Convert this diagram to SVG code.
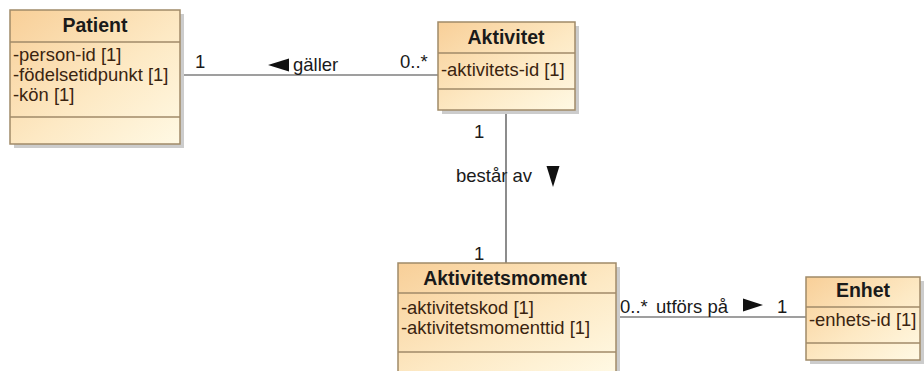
<svg xmlns="http://www.w3.org/2000/svg" width="924" height="371" viewBox="0 0 924 371">
<defs>
<linearGradient id="g" x1="0" y1="0" x2="1" y2="1">
<stop offset="0" stop-color="#f8cf98"/>
<stop offset="0.55" stop-color="#fde9c4"/>
<stop offset="1" stop-color="#fff9e4"/>
</linearGradient>
</defs>
<style>
.box{fill:url(#g);stroke:#a08a68;stroke-width:1.5}
.shadow{fill:#cccccc}
.sep{stroke:#a08a68;stroke-width:1.5}
.title{font-family:"Liberation Sans",Arial,sans-serif;font-size:19.5px;font-weight:bold;fill:#1a1a1a;text-anchor:middle}
.attr{font-family:"Liberation Sans",Arial,sans-serif;font-size:18.4px;fill:#3a2410}
.lbl{font-family:"Liberation Sans",Arial,sans-serif;font-size:18.5px;fill:#1a1a1a}
.line{stroke:#404040;stroke-width:1.2;fill:none}
.tri{fill:#111}
</style>
<rect width="924" height="371" fill="#ffffff"/>
<g id="connectors">
<line class="line" x1="180" y1="75" x2="438" y2="75"/>
<line class="line" x1="506" y1="110" x2="506" y2="263"/>
<line class="line" x1="616" y1="317" x2="806" y2="317"/>
<text class="lbl" x="195" y="68">1</text>
<polygon class="tri" points="268,65 289,58.5 289,71.5"/>
<text class="lbl" x="293" y="71">gäller</text>
<text class="lbl" x="400" y="68">0..*</text>
<text class="lbl" x="474" y="138">1</text>
<text class="lbl" x="456" y="182">består av</text>
<polygon class="tri" points="546.5,166 559.5,166 553,187"/>
<text class="lbl" x="474" y="260">1</text>
<text class="lbl" x="620" y="313">0..*</text>
<text class="lbl" x="656" y="313">utförs på</text>
<polygon class="tri" points="743,298.5 743,311.5 763,305"/>
<text class="lbl" x="777" y="313">1</text>
</g>
<g id="patient">
<rect class="shadow" x="14" y="14" width="170" height="134"/>
<rect class="box" x="10" y="10" width="170" height="134"/>
<line class="sep" x1="10" y1="42" x2="180" y2="42"/>
<line class="sep" x1="10" y1="117" x2="180" y2="117"/>
<text class="title" x="95" y="32">Patient</text>
<text class="attr" x="13" y="61">-person-id [1]</text>
<text class="attr" x="13" y="81">-födelsetidpunkt [1]</text>
<text class="attr" x="13" y="101">-kön [1]</text>
</g>
<g id="aktivitet">
<rect class="shadow" x="442" y="26" width="137" height="88"/>
<rect class="box" x="438" y="22" width="137" height="88"/>
<line class="sep" x1="438" y1="53" x2="575" y2="53"/>
<line class="sep" x1="438" y1="89" x2="575" y2="89"/>
<text class="title" x="506" y="44">Aktivitet</text>
<text class="attr" x="441" y="76">-aktivitets-id [1]</text>
</g>
<g id="aktivitetsmoment">
<rect class="shadow" x="402" y="267" width="218" height="110"/>
<rect class="box" x="398" y="263" width="218" height="110"/>
<line class="sep" x1="398" y1="293" x2="616" y2="293"/>
<line class="sep" x1="398" y1="352" x2="616" y2="352"/>
<text class="title" x="505" y="285">Aktivitetsmoment</text>
<text class="attr" x="401" y="314">-aktivitetskod [1]</text>
<text class="attr" x="401" y="334">-aktivitetsmomenttid [1]</text>
</g>
<g id="enhet">
<rect class="shadow" x="810" y="281" width="114" height="83"/>
<rect class="box" x="806" y="277" width="114" height="83"/>
<line class="sep" x1="806" y1="307" x2="920" y2="307"/>
<line class="sep" x1="806" y1="343" x2="920" y2="343"/>
<text class="title" x="863" y="297">Enhet</text>
<text class="attr" x="809" y="326">-enhets-id [1]</text>
</g>
</svg>
